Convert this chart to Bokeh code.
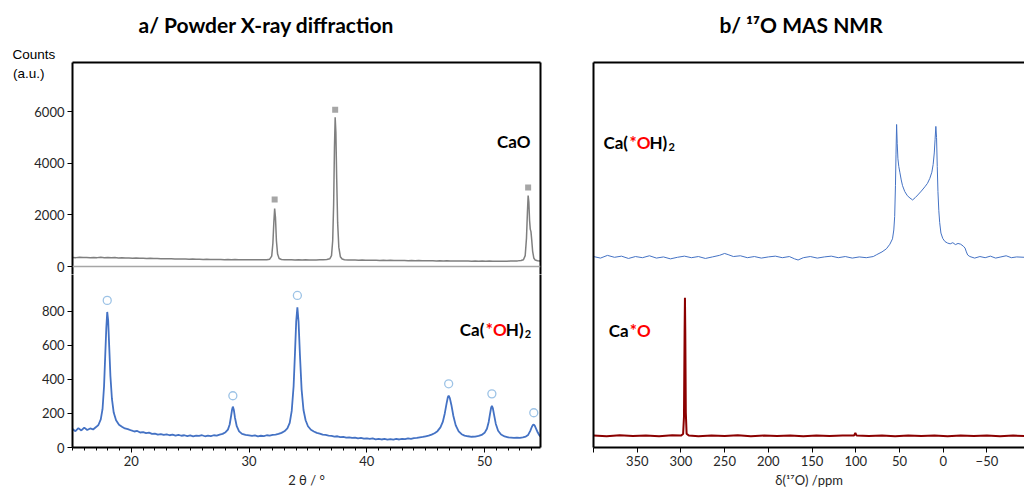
from bokeh.plotting import figure
from bokeh.models import (Range1d, LinearAxis, FixedTicker, SingleIntervalTicker, Label, Span, Title,
                          PrintfTickFormatter)
from bokeh.layouts import row, column
from bokeh.embed import file_html
from bokeh.resources import INLINE

# ---------------- data ----------------
# PXRD, CaO (grey, top panel): (2theta, counts)
cao_xrd_points = [
    (15.0,352),(15.3,344),(15.6,356),(15.9,346),(16.2,350),(16.5,340),(16.8,352),(17.1,344),(17.4,356),(17.7,342),
    (18.0,348),(18.3,338),(18.6,346),(18.9,334),(19.2,340),(19.5,330),(19.8,334),(20.1,322),(20.4,328),(20.7,318),
    (21.0,322),(21.3,312),(21.6,316),(21.9,306),(22.2,310),(22.5,300),(22.8,304),(23.1,296),(23.4,300),(23.7,290),
    (24.0,294),(24.3,286),(24.6,290),(24.9,282),(25.2,286),(25.5,278),(25.8,282),(26.1,274),(26.4,280),(26.7,272),
    (27.0,276),(27.3,268),(27.6,272),(27.9,266),(28.2,270),(28.5,264),(28.8,268),(29.1,262),(29.4,266),(29.7,260),
    (30.0,264),(30.3,258),(30.6,262),(30.9,258),(31.2,262),(31.5,266),(31.75,285),(31.92,400),(32.02,900),(32.1,1700),
    (32.17,2250),(32.24,1900),(32.32,1000),(32.42,480),(32.55,310),(32.75,272),(33.0,262),(33.3,258),(33.6,262),(33.9,256),
    (34.2,260),(34.5,254),(34.8,258),(35.1,252),(35.4,256),(35.7,254),(36.0,258),(36.3,262),(36.6,272),(36.85,300),
    (37.0,420),(37.1,1000),(37.18,2400),(37.25,4600),(37.31,5780),(37.37,5200),(37.44,3400),(37.52,1700),(37.62,750),(37.75,380),
    (37.9,290),(38.1,262),(38.4,252),(38.7,248),(39.0,252),(39.3,244),(39.6,248),(39.9,240),(40.2,246),(40.5,238),
    (40.8,242),(41.1,236),(41.4,240),(41.7,232),(42.0,238),(42.3,230),(42.6,234),(42.9,228),(43.2,234),(43.5,226),
    (43.8,230),(44.1,224),(44.4,228),(44.7,222),(45.0,226),(45.3,220),(45.6,224),(45.9,218),(46.2,222),(46.5,216),
    (46.8,220),(47.1,214),(47.4,218),(47.7,212),(48.0,216),(48.3,210),(48.6,214),(48.9,208),(49.2,212),(49.5,206),
    (49.8,210),(50.1,206),(50.4,210),(50.7,204),(51.0,208),(51.3,204),(51.6,208),(51.9,206),(52.2,210),(52.5,212),
    (52.8,218),(53.1,230),(53.3,260),(53.45,420),(53.56,1100),(53.64,2100),(53.7,2750),(53.76,2500),(53.82,1800),(53.88,1450),
    (53.94,1350),(54.0,1050),(54.08,600),(54.18,330),(54.3,250),(54.5,224),(54.75,218),
]
cao_marker_2theta = [32.17, 37.31, 53.7]
cao_marker_counts = [2600, 6080, 3060]

# PXRD, Ca(*OH)2 (blue, bottom panel): (2theta, counts)
caoh_xrd_points = [
    (15.0,108),(15.25,96),(15.5,114),(15.75,100),(16.0,117),(16.25,103),(16.5,112),(16.75,106),(17.0,120),(17.2,132),
    (17.4,165),(17.55,225),(17.68,360),(17.78,540),(17.87,700),(17.95,796),(18.03,745),(18.12,590),(18.22,420),(18.35,285),
    (18.5,205),(18.7,160),(18.95,134),(19.2,122),(19.45,112),(19.7,108),(20.0,100),(20.25,94),(20.5,97),(20.75,88),
    (21.0,90),(21.25,84),(21.5,87),(21.75,80),(22.0,82),(22.25,76),(22.5,79),(22.75,74),(23.0,77),(23.25,72),
    (23.5,75),(23.75,70),(24.0,74),(24.25,69),(24.5,72),(24.75,67),(25.0,71),(25.25,66),(25.5,70),(25.75,68),
    (26.0,72),(26.25,66),(26.5,70),(26.75,67),(27.0,72),(27.25,70),(27.5,76),(27.75,80),(28.0,90),(28.2,105),
    (28.35,135),(28.47,185),(28.56,225),(28.62,240),(28.7,222),(28.8,175),(28.95,125),(29.15,95),(29.4,80),(29.7,74),
    (30.0,71),(30.25,68),(30.5,71),(30.75,66),(31.0,69),(31.25,67),(31.5,72),(31.75,70),(32.0,74),(32.25,76),
    (32.5,80),(32.75,86),(33.0,95),(33.25,112),(33.45,145),(33.62,215),(33.78,360),(33.9,560),(34.0,740),(34.1,823),
    (34.2,740),(34.32,540),(34.46,340),(34.62,220),(34.8,160),(35.0,125),(35.25,104),(35.5,94),(35.75,86),(36.0,82),
    (36.25,76),(36.5,74),(36.75,70),(37.0,68),(37.25,64),(37.5,66),(37.75,61),(38.0,62),(38.25,58),(38.5,60),
    (38.75,56),(39.0,58),(39.25,54),(39.5,56),(39.75,52),(40.0,54),(40.25,50),(40.5,53),(40.75,48),(41.0,51),
    (41.25,47),(41.5,50),(41.75,46),(42.0,49),(42.25,46),(42.5,50),(42.75,47),(43.0,51),(43.25,49),(43.5,53),
    (43.75,51),(44.0,55),(44.25,56),(44.5,60),(44.75,62),(45.0,66),(45.25,70),(45.5,76),(45.75,84),(46.0,96),
    (46.25,118),(46.45,150),(46.62,200),(46.77,258),(46.88,295),(46.95,304),(47.05,290),(47.18,250),(47.35,185),(47.55,130),
    (47.8,95),(48.05,78),(48.3,70),(48.6,66),(48.9,63),(49.2,64),(49.5,68),(49.75,74),(50.0,86),(50.2,110),
    (50.35,150),(50.47,200),(50.56,235),(50.62,245),(50.7,232),(50.8,195),(50.95,140),(51.15,98),(51.4,76),(51.7,65),
    (52.0,60),(52.25,58),(52.5,56),(52.75,58),(53.0,57),(53.25,60),(53.5,64),(53.7,74),(53.88,98),(54.02,122),
    (54.12,133),(54.18,134),(54.26,128),(54.38,110),(54.52,88),(54.65,72),(54.75,64),
]
caoh_marker_2theta = [17.95, 28.62, 34.1, 46.95, 50.62, 54.18]
caoh_marker_counts = [864, 304, 893, 374, 315, 204]

# 17O MAS NMR, Ca(*OH)2 (blue, upper trace): (ppm, intensity a.u.)
nmr_caoh_points = [
    (400,49.6),(392,49.2),(384,49.9),(376,49.4),(368,49.7),(360,49.1),(352,49.6),(344,49.3),(336,49.8),(328,49.2),
    (320,49.5),(312,49.0),(304,49.4),(296,49.7),(288,49.3),(280,49.6),(272,49.1),(264,49.5),(256,49.9),(250,50.4),
    (246,50.1),(240,49.6),(232,49.8),(224,49.3),(216,49.6),(208,49.2),(200,49.5),(192,49.7),(184,49.3),(176,49.6),
    (170,49.0),(166,48.7),(160,49.3),(152,49.6),(144,49.2),(136,49.5),(128,49.7),(120,49.3),(112,49.6),(104,49.2),
    (96,49.5),(88,49.3),(80,49.6),(76,50.1),(70,50.8),(65,51.6),(61,52.8),(58,54.2),(56.5,56.5),(55.5,60.0),
    (54.6,68.0),(54.0,76.0),(53.3,83.9),(52.6,79.0),(51.8,75.0),(50.8,73.0),(49.6,71.5),(48.0,69.5),(46.5,68.0),(44.0,66.5),
    (41.0,65.4),(38.0,64.8),(35.0,64.3),(32.0,64.9),(29.0,65.6),(25.0,66.6),(21.0,67.7),(18.0,68.6),(15.3,69.9),(13.0,71.5),
    (11.5,73.5),(10.2,76.5),(9.3,80.0),(8.4,83.4),(7.6,80.5),(6.8,73.0),(6.0,66.5),(5.0,61.5),(4.0,58.4),(2.6,55.7),
    (0.5,54.3),(-2,53.5),(-5,53.1),(-8,52.9),(-11,53.2),(-14,52.7),(-17,53.0),(-20,52.8),(-23,52.3),(-25,51.8),
    (-26.5,50.8),(-28,50.0),(-30.5,49.6),(-36,49.2),(-42,49.6),(-48,49.3),(-54,49.7),(-60,49.2),(-66,49.5),(-72,49.8),
    (-78,49.3),(-84,49.5),(-93,49.4),
]
# 17O MAS NMR, Ca*O (dark red, lower trace): (ppm, intensity a.u.)
nmr_cao_points = [
    (400,3.1),(385,2.9),(370,3.2),(355,3.0),(340,3.1),(325,2.9),(310,3.2),(300,3.1),(297.5,3.5),(296.5,8.0),
    (295.8,30.0),(295.4,38.9),(295.0,30.0),(294.4,9.0),(293.5,3.6),(291,3.1),(280,2.9),(265,3.1),(250,3.0),(235,3.2),
    (220,2.9),(205,3.1),(190,3.0),(175,3.1),(160,2.9),(145,3.1),(130,3.0),(115,3.1),(102,3.1),(100.5,3.8),
    (99,3.1),(85,3.0),(70,3.1),(55,2.9),(40,3.1),(25,3.0),(10,3.1),(-5,2.9),(-20,3.1),(-35,3.0),
    (-50,3.1),(-65,2.9),(-80,3.1),(-93,3.0),
]

xrd_y_ticks_cao = [0, 2000, 4000, 6000]
xrd_y_ticks_caoh = [0, 200, 400, 600, 800]
nmr_x_ticks = [400, 350, 300, 250, 200, 150, 100, 50, 0, -50]
au_label_level = [7481]   # y (counts) beside which "(a.u.)" sits

cao_x = [p[0] for p in cao_xrd_points]
cao_y = [p[1] for p in cao_xrd_points]
caoh_x = [p[0] for p in caoh_xrd_points]
caoh_y = [p[1] for p in caoh_xrd_points]
nmr_caoh_x = [p[0] for p in nmr_caoh_points]
nmr_caoh_y = [p[1] for p in nmr_caoh_points]
nmr_cao_x = [p[0] for p in nmr_cao_points]
nmr_cao_y = [p[1] for p in nmr_cao_points]

# ---------------- styles ----------------
FONT = "Lato"
TICK_COLOR = "#262626"
BLUE = "#4472C4"
GREY = "#7F7F7F"
DARKRED = "#8B0000"
RED = "#FF0000"


def style_axis(ax):
    ax.axis_line_color = "black"
    ax.axis_line_width = 2
    ax.major_tick_line_color = "black"
    ax.major_tick_line_width = 1
    ax.major_tick_out = 5
    ax.major_tick_in = 0
    ax.minor_tick_line_color = None
    ax.major_label_text_font = FONT
    ax.major_label_text_font_size = "13px"
    ax.major_label_text_color = TICK_COLOR
    ax.major_label_standoff = 3
    ax.axis_label_text_font = FONT
    ax.axis_label_text_font_size = "13px"
    ax.axis_label_text_font_style = "normal"
    ax.axis_label_text_color = TICK_COLOR
    ax.axis_label_standoff = 3


def frame_axis(ax):
    ax.ticker = FixedTicker(ticks=[])
    ax.axis_line_color = "black"
    ax.axis_line_width = 2
    ax.major_tick_line_color = None
    ax.minor_tick_line_color = None
    ax.major_label_text_font_size = "0px"
    ax.major_label_standoff = 0


def base_fig(**kw):
    p = figure(toolbar_location=None, output_backend="svg", title=None, **kw)
    p.outline_line_color = None
    p.grid.visible = False
    p.background_fill_color = "white"
    p.border_fill_color = "white"
    return p


def make_title(text, offset, size, font=FONT, style="bold", standoff=None):
    t = Title(text=text, align="left", offset=offset, text_font=font,
              text_font_size=size, text_font_style=style, text_color="black")
    if standoff is not None:
        try:
            t.standoff = standoff
        except Exception:
            pass
    return t


def add_text(p, x, y, pieces, size="17px", style="bold"):
    for txt, color, dx, dy, fs in pieces:
        p.add_layout(Label(x=x, y=y, text=txt, x_offset=dx, y_offset=dy,
                           text_font=FONT, text_font_size=fs or size,
                           text_font_style=style, text_color=color,
                           text_align="left", text_baseline="middle"))


# ---------------- a/ PXRD top (CaO) ----------------
pA = base_fig(width=575, height=274,
              x_range=Range1d(15, 54.75), y_range=Range1d(-310, 7907),
              x_axis_location="above",
              min_border_left=72, min_border_right=35, min_border_top=62, min_border_bottom=0)
frame_axis(pA.xaxis[0])
style_axis(pA.yaxis[0])
pA.yaxis[0].ticker = FixedTicker(ticks=xrd_y_ticks_cao)
rA = LinearAxis()
frame_axis(rA)
pA.add_layout(rA, "right")
# outer left "axis" carrying only the "(a.u.)" unit text
auA = LinearAxis(ticker=FixedTicker(ticks=au_label_level),
                 formatter=PrintfTickFormatter(format="(a.u.)"))
auA.axis_line_color = None
auA.major_tick_line_color = None
auA.minor_tick_line_color = None
auA.major_tick_out = 0
auA.major_tick_in = 0
auA.major_label_standoff = -13
auA.major_label_text_font = "Liberation Sans"
auA.major_label_text_font_size = "13.5px"
auA.major_label_text_color = "black"
pA.add_layout(auA, "left")
pA.add_layout(make_title("Counts", -60, "13.5px", font="Liberation Sans", style="normal", standoff=2), "above")
pA.add_layout(make_title("a/ Powder X-ray diffraction", 66, "21px", standoff=14), "above")
pA.add_layout(Span(location=0, dimension="width", line_color="#A6A6A6", line_width=1.5))
pA.line(cao_x, cao_y, line_color=GREY, line_width=1.5)
pA.scatter(cao_marker_2theta, cao_marker_counts, marker="square", size=6,
           fill_color="#A6A6A6", line_color=None)
add_text(pA, 51.05, 4826, [("CaO", "black", 0, 0, "17px")])

# ---------------- a/ PXRD bottom (Ca(OH)2) ----------------
pB = base_fig(width=575, height=216,
              x_range=Range1d(15, 54.75), y_range=Range1d(0, 1016),
              min_border_left=72, min_border_right=35, min_border_top=0, min_border_bottom=42)
xB = pB.xaxis[0]
style_axis(xB)
xB.ticker = SingleIntervalTicker(interval=10, num_minor_ticks=10)
xB.minor_tick_line_color = "black"
xB.minor_tick_out = 3
xB.minor_tick_in = 0
xB.axis_label = "2 θ / °"
style_axis(pB.yaxis[0])
pB.yaxis[0].ticker = FixedTicker(ticks=xrd_y_ticks_caoh)
rB = LinearAxis()
frame_axis(rB)
pB.add_layout(rB, "right")
pB.line(caoh_x, caoh_y, line_color=BLUE, line_width=1.8)
pB.scatter(caoh_marker_2theta, caoh_marker_counts, marker="circle", size=8,
           fill_color=None, line_color="#9DC3E6", line_width=1.3)
add_text(pB, 47.9, 695, [("Ca(", "black", 0, 0, None), ("*O", RED, 26, 0, None),
                         ("H)", "black", 46, 0, None), ("2", "black", 65, -5, "11px")])

# ---------------- b/ 17O MAS NMR ----------------
pC = base_fig(width=449, height=490,
              x_range=Range1d(400, -93), y_range=Range1d(0, 100),
              min_border_left=18, min_border_right=0, min_border_top=62, min_border_bottom=42)
xC = pC.xaxis[0]
style_axis(xC)
xC.ticker = FixedTicker(ticks=nmr_x_ticks)
xC.major_label_overrides = {400: ""}
xC.axis_label = "δ(¹⁷O) /ppm"
frame_axis(pC.yaxis[0])
tC = LinearAxis()
frame_axis(tC)
pC.add_layout(tC, "above")
pC.add_layout(make_title(" ", 0, "13.5px", font="Liberation Sans", style="normal", standoff=2), "above")
pC.add_layout(make_title("b/ ¹⁷O MAS NMR", 126, "21px", standoff=14), "above")
pC.line(nmr_caoh_x, nmr_caoh_y, line_color=BLUE, line_width=1)
pC.line(nmr_cao_x, nmr_cao_y, line_color=DARKRED, line_width=2)
add_text(pC, 388.6, 79.3, [("Ca(", "black", 0, 0, None), ("*O", RED, 26, 0, None),
                           ("H)", "black", 46, 0, None), ("2", "black", 65, -5, "11px")])
add_text(pC, 382.5, 30.4, [("Ca", "black", 0, 0, None), ("*O", RED, 21, 0, None)])

layout = row(column(pA, pB), pC)
open("out.html", "w").write(file_html(layout, INLINE))
